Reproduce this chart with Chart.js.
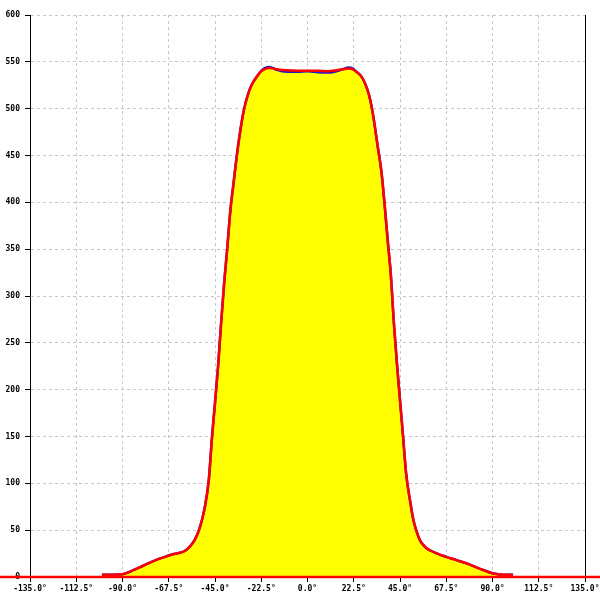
<!DOCTYPE html>
<html>
<head>
<meta charset="utf-8">
<script src="https://cdn.jsdelivr.net/npm/chart.js@4"></script>
<style>
    html, body { margin: 0; padding: 0; background: #fff; }
    canvas { display: block; }
</style>
</head>
<body>
<canvas id="patternChart" width="600" height="600"></canvas>
<script>
// angles in degrees (shared by both traces)
const angles = [-100, -95, -90, -85, -80, -75, -70, -65, -60, -57.5, -55, -52.5, -50, -48, -46.5, -45, -43.5, -42, -40.5, -39, -37.5, -36, -34.5, -33, -31, -29, -27, -25, -23, -21, -19, -17, -15, -10, -5, 0, 5, 10, 14, 17, 20, 22, 24, 26, 28, 30, 32, 34, 36, 37.5, 39, 40.5, 42, 43.5, 45, 46.5, 48, 50, 51.5, 53, 55, 57.5, 60, 62.5, 67.5, 72.5, 77.5, 82.5, 85.5, 90, 95, 100];

// red trace
const redValues = [2.5, 2.5, 3, 7, 12, 17, 21, 24.5, 27.5, 32, 39, 52, 74, 104, 148, 186, 225, 272, 315, 352, 392, 420, 448, 472, 498, 515, 526, 533, 539, 542, 543.5, 543, 542, 541, 540.5, 540.5, 540.5, 540, 541, 542, 542.8, 542, 539, 535, 527, 514, 492, 462, 432, 398, 360, 324, 272, 228, 189, 150, 110, 80, 61, 49, 38, 31.5, 28, 25.5, 21.5, 18, 14.5, 10, 7.5, 4, 2.5, 2.5];

// blue trace (filled) - only differs near the top
const blueValues = [2.5, 2.5, 3, 7, 12, 17, 21, 24.5, 27.5, 32, 39, 52, 74, 104, 148, 186, 225, 272, 315, 352, 392, 420, 448, 472, 498, 515, 526, 533, 539, 543, 544.5, 543.5, 541.5, 539.5, 539.5, 540, 539, 538.5, 540, 542, 544, 543, 539, 535, 527, 514, 492, 462, 432, 398, 360, 324, 272, 228, 189, 150, 110, 80, 61, 49, 38, 31.5, 28, 25.5, 21.5, 18, 14.5, 10, 7.5, 4, 2.5, 2.5];

// zero line that runs across the whole picture
const baseAngles = [-155, 155];
const baseValues = [0, 0];

const xTicks = [-135, -112.5, -90, -67.5, -45, -22.5, 0, 22.5, 45, 67.5, 90, 112.5, 135];
const yTicks = [0, 50, 100, 150, 200, 250, 300, 350, 400, 450, 500, 550, 600];

const toPoints = (xs, ys) => xs.map((x, i) => ({ x: x, y: ys[i] }));

const tickFont = { family: "DejaVu Sans Mono", size: 8, weight: "bold" };

const ctx = document.getElementById("patternChart").getContext("2d");
new Chart(ctx, {
    type: "line",
    data: {
        datasets: [
            {
                label: "red",
                data: toPoints(angles, redValues),
                borderColor: "#ff0000",
                borderWidth: 2.5,
                pointRadius: 0,
                fill: false,
                cubicInterpolationMode: "monotone",
                order: 0,
            },
            {
                label: "zero",
                data: toPoints(baseAngles, baseValues),
                borderColor: "#ff0000",
                borderWidth: 2.5,
                pointRadius: 0,
                fill: false,
                clip: false,
                order: 1,
            },
            {
                label: "blue",
                data: toPoints(angles, blueValues),
                borderColor: "#1a1ad0",
                borderWidth: 2.5,
                backgroundColor: "#ffff00",
                pointRadius: 0,
                fill: "origin",
                cubicInterpolationMode: "monotone",
                order: 2,
            },
        ],
    },
    options: {
        responsive: false,
        animation: false,
        layout: { padding: { top: 15, left: 0, right: 0, bottom: 0 } },
        plugins: {
            legend: { display: false },
            tooltip: { enabled: false },
        },
        scales: {
            x: {
                type: "linear",
                min: -135,
                max: 135,
                afterBuildTicks: (scale) => {
                    scale.ticks = xTicks.map((v) => ({ value: v }));
                },
                afterFit: (scale) => {
                    scale.height = 23;
                    scale.paddingLeft = 0;
                    scale.paddingRight = 0;
                },
                ticks: {
                    color: "#000",
                    font: tickFont,
                    padding: 2,
                    maxRotation: 0,
                    autoSkip: false,
                    callback: (v) => Number(v).toFixed(1) + "°",
                },
                grid: {
                    color: "#c8c8c8",
                    tickColor: "#000",
                    tickLength: 5,
                },
                border: { color: "#000", width: 1, dash: [3, 3] },
            },
            y: {
                type: "linear",
                position: "left",
                min: 0,
                max: 600,
                afterBuildTicks: (scale) => {
                    scale.ticks = yTicks.map((v) => ({ value: v }));
                },
                afterFit: (scale) => {
                    scale.width = 30;
                },
                ticks: {
                    color: "#000",
                    font: tickFont,
                    padding: 5,
                },
                grid: {
                    color: "#c8c8c8",
                    tickColor: "#000",
                    tickLength: 5,
                },
                border: { color: "#000", width: 1, dash: [3, 3] },
            },
            yRight: {
                type: "linear",
                position: "right",
                min: 0,
                max: 600,
                afterFit: (scale) => {
                    scale.width = 15;
                },
                ticks: { display: false },
                grid: { drawOnChartArea: false, drawTicks: false },
                border: { color: "#000", width: 1 },
            },
        },
    },
});
</script>
</body>
</html>
